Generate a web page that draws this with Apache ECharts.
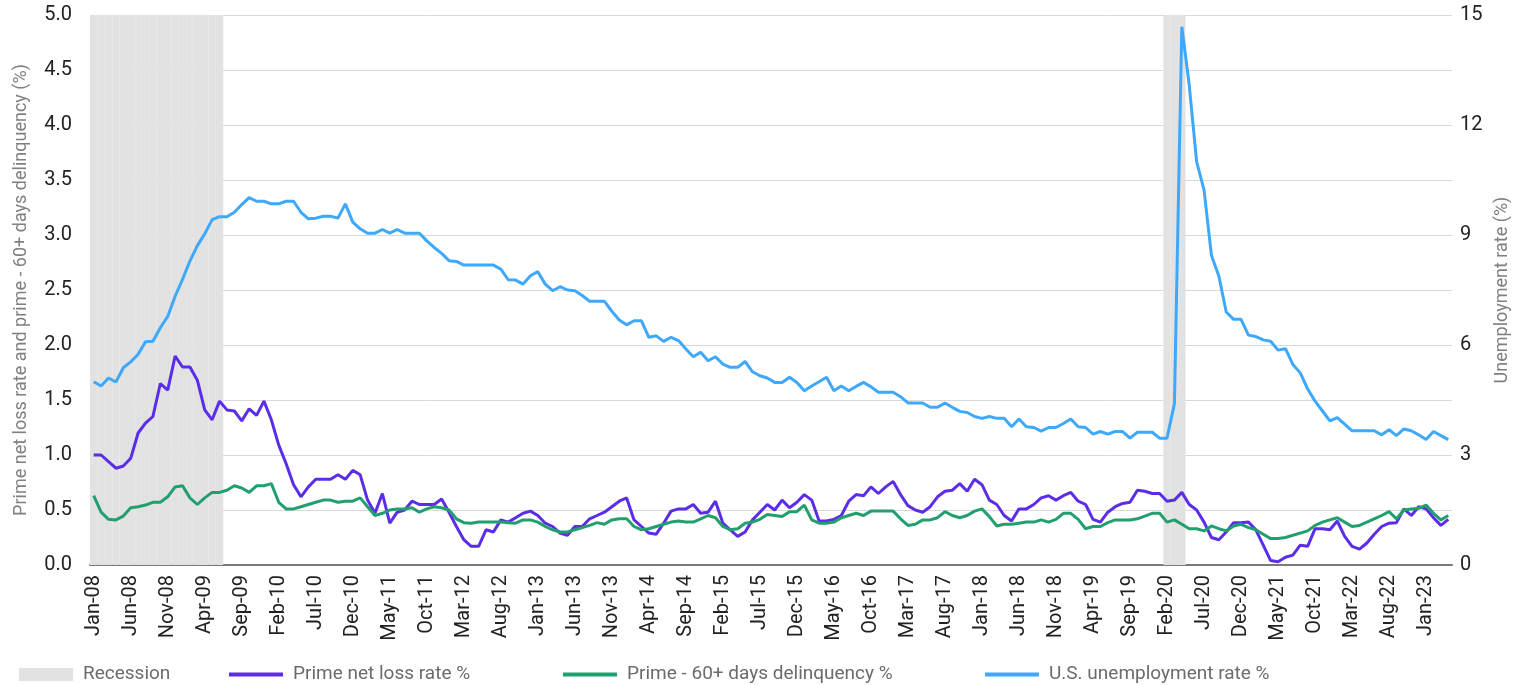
<!DOCTYPE html>
<html>
<head>
<meta charset="utf-8">
<script src="https://cdn.jsdelivr.net/npm/echarts@6/dist/echarts.min.js"></script>
<style>
  html, body { margin: 0; padding: 0; background: #fff; }
  #chart { width: 1524px; height: 685px; }
</style>
</head>
<body>
<div id="chart"></div>
<script>
// months Jan-08 .. Apr-23
const monthNames = ["Jan", "Feb", "Mar", "Apr", "May", "Jun", "Jul", "Aug", "Sep", "Oct", "Nov", "Dec"];
const categories = [];
for (let y = 8; y <= 23; y++) {
  monthNames.forEach((m) => categories.push(m + "-" + String(y).padStart(2, "0")));
}
categories.length = 184;

// recession periods (first and last month)
const recessions = [["Jan-08", "Jun-09"], ["Feb-20", "Apr-20"]];

// Prime net loss rate %
const netLoss = [
  1.0, 1.0, 0.94, 0.88, 0.9, 0.97, 1.2, 1.29, 1.35, 1.65, 1.59, 1.9, 1.8, 1.8, 1.68, 1.41, 1.32, 1.49, 1.41, 1.4,
  1.31, 1.42, 1.36, 1.49, 1.32, 1.09, 0.92, 0.73, 0.62, 0.71, 0.78, 0.78, 0.78, 0.82, 0.78, 0.86, 0.82, 0.59, 0.47, 0.65,
  0.38, 0.48, 0.5, 0.58, 0.55, 0.55, 0.55,
  0.6, 0.48, 0.35, 0.23, 0.17, 0.17, 0.32, 0.3, 0.41, 0.39, 0.43, 0.47, 0.49, 0.45, 0.38, 0.35, 0.29, 0.27, 0.35, 0.35,
  0.42, 0.45, 0.48, 0.53, 0.58, 0.61, 0.41, 0.35, 0.29, 0.28, 0.38, 0.49, 0.51, 0.51, 0.55, 0.47, 0.48, 0.58, 0.38, 0.32,
  0.26, 0.3, 0.41, 0.48, 0.55, 0.5, 0.59,
  0.52, 0.57, 0.64, 0.59, 0.4, 0.4, 0.415, 0.45, 0.58, 0.64, 0.63, 0.71, 0.65, 0.71, 0.76, 0.64, 0.54, 0.5, 0.48, 0.53,
  0.62, 0.67, 0.68, 0.74, 0.67, 0.78, 0.73, 0.59, 0.55, 0.45, 0.4, 0.51, 0.51, 0.55, 0.61, 0.63, 0.59, 0.63, 0.66, 0.58,
  0.55, 0.415, 0.39, 0.48, 0.53,
  0.56, 0.57, 0.68, 0.67, 0.65, 0.65, 0.58, 0.59, 0.66, 0.55, 0.5, 0.39, 0.25, 0.23, 0.3, 0.385, 0.385, 0.39, 0.32, 0.18,
  0.04, 0.03, 0.07, 0.09, 0.18, 0.17, 0.33, 0.33, 0.32, 0.4, 0.26, 0.17, 0.145, 0.2, 0.28, 0.35, 0.38, 0.385, 0.51, 0.45,
  0.53, 0.51, 0.43, 0.36, 0.415
];

// Prime - 60+ days delinquency %
const delinquency = [
  0.63, 0.48, 0.415, 0.41, 0.445, 0.52, 0.53, 0.545, 0.57, 0.57, 0.62, 0.71, 0.72, 0.61, 0.55, 0.61, 0.66, 0.66, 0.68, 0.72,
  0.7, 0.66, 0.72, 0.72, 0.74, 0.57, 0.51, 0.51, 0.53, 0.55, 0.57, 0.59, 0.59, 0.57, 0.58, 0.58, 0.61, 0.53, 0.45, 0.47,
  0.5, 0.51, 0.51, 0.52, 0.48, 0.51, 0.53,
  0.52, 0.5, 0.42, 0.385, 0.38, 0.39, 0.39, 0.39, 0.39, 0.385, 0.38, 0.41, 0.41, 0.39, 0.35, 0.32, 0.3, 0.3, 0.32, 0.34,
  0.36, 0.385, 0.37, 0.41, 0.42, 0.42, 0.35, 0.32, 0.33, 0.35, 0.37, 0.39, 0.4, 0.39, 0.39, 0.42, 0.45, 0.43, 0.35, 0.32,
  0.33, 0.38, 0.39, 0.415, 0.46, 0.45, 0.44,
  0.485, 0.485, 0.545, 0.41, 0.38, 0.38, 0.39, 0.43, 0.45, 0.47, 0.45, 0.49, 0.49, 0.49, 0.49, 0.42, 0.36, 0.37, 0.41, 0.41,
  0.43, 0.485, 0.45, 0.43, 0.45, 0.49, 0.51, 0.44, 0.355, 0.37, 0.37, 0.38, 0.39, 0.39, 0.41, 0.39, 0.415, 0.47, 0.47, 0.415,
  0.33, 0.35, 0.35, 0.385, 0.41,
  0.41, 0.41, 0.42, 0.445, 0.47, 0.47, 0.39, 0.41, 0.37, 0.33, 0.33, 0.31, 0.355, 0.33, 0.31, 0.355, 0.37, 0.34, 0.32, 0.28,
  0.24, 0.24, 0.25, 0.27, 0.29, 0.31, 0.36, 0.39, 0.41, 0.43, 0.39, 0.35, 0.36, 0.39, 0.42, 0.45, 0.485, 0.42, 0.5, 0.51,
  0.515, 0.545, 0.47, 0.41, 0.45
];

// U.S. unemployment rate % (right axis)
const unemployment = [
  5.0, 4.88, 5.1, 4.99, 5.38, 5.54, 5.75, 6.09, 6.1, 6.47, 6.78, 7.33, 7.79, 8.29, 8.71, 9.03, 9.42, 9.5, 9.5, 9.62,
  9.83, 10.02, 9.92, 9.92, 9.85, 9.85, 9.92, 9.92, 9.62, 9.44, 9.46, 9.51, 9.51, 9.46, 9.85, 9.35, 9.17, 9.05, 9.05, 9.15,
  9.05, 9.15, 9.05, 9.05, 9.05, 8.84, 8.66,
  8.5, 8.3, 8.28, 8.18, 8.18, 8.18, 8.18, 8.18, 8.07, 7.78, 7.77, 7.66, 7.89, 8.0, 7.66, 7.48, 7.59, 7.5, 7.48, 7.35,
  7.19, 7.19, 7.19, 6.92, 6.68, 6.55, 6.66, 6.66, 6.21, 6.25, 6.1, 6.21, 6.12, 5.89, 5.68, 5.8, 5.57, 5.68, 5.48, 5.39,
  5.39, 5.55, 5.27, 5.16, 5.1, 4.98, 4.98,
  5.12, 4.98, 4.75, 4.88, 5.0, 5.12, 4.75, 4.88, 4.75, 4.87, 4.98, 4.86, 4.71, 4.71, 4.71, 4.59, 4.42, 4.42, 4.42, 4.3,
  4.3, 4.42, 4.3, 4.19, 4.16, 4.05, 4.0, 4.05, 4.0, 4.0, 3.77, 3.98, 3.77, 3.75, 3.65, 3.75, 3.75, 3.86, 3.98, 3.77,
  3.75, 3.57, 3.64, 3.57, 3.64, 3.64, 3.46, 3.62, 3.62, 3.62, 3.46, 3.46,
  4.4, 14.68, 13.09, 11.0, 10.23, 8.45, 7.88, 6.9, 6.7, 6.7, 6.27, 6.23, 6.14, 6.1, 5.86, 5.9, 5.47, 5.24, 4.8, 4.47,
  4.2, 3.93, 4.02, 3.84, 3.66, 3.66, 3.66, 3.66, 3.55, 3.69, 3.53, 3.71, 3.66, 3.55, 3.42, 3.64, 3.53, 3.42
];

const leftTicks = { min: 0, max: 5, interval: 0.5 };
const rightTicks = { min: 0, max: 15, interval: 3 };

// recession bars fill the full height of the left axis
const recessionData = categories.map(() => null);
recessions.forEach(([a, b]) => {
  for (let i = categories.indexOf(a); i <= categories.indexOf(b); i++) recessionData[i] = leftTicks.max;
});

const FONT = "Roboto";
const NET_LOSS = "#5b2de8";
const DELINQ = "#21a06e";
const UNEMP = "#3ea8fb";
const chart = echarts.init(document.getElementById("chart"));

const legendBase = {
  top: 660,
  itemWidth: 54,
  textStyle: { fontFamily: FONT, fontSize: 19, color: "#6b6b6b", padding: [0, 0, 0, 5] },
};
// line items are drawn as a plain thick bar, no marker
const lineLegend = (left, name, color) =>
  Object.assign({}, legendBase, {
    left: left,
    itemHeight: 4,
    data: [{ name: name, icon: "rect", itemStyle: { color: color } }],
  });

chart.setOption({
  animation: false,
  grid: { left: 90, right: 72, top: 15, bottom: 120, containLabel: false, outerBoundsMode: "none" },
  legend: [
    Object.assign({}, legendBase, { left: 14, itemHeight: 13, data: [{ name: "Recession", icon: "rect" }] }),
    lineLegend(224, "Prime net loss rate %", NET_LOSS),
    lineLegend(558, "Prime - 60+ days delinquency %", DELINQ),
    lineLegend(980, "U.S. unemployment rate %", UNEMP),
  ],
  xAxis: {
    type: "category",
    data: categories,
    boundaryGap: true,
    axisLine: { lineStyle: { color: "#7a7a7a", width: 2 } },
    axisTick: { show: false },
    axisLabel: {
      interval: 4,
      rotate: 90,
      margin: 10,
      fontFamily: FONT,
      fontSize: 20,
      color: "#222",
    },
  },
  yAxis: [
    {
      type: "value",
      min: leftTicks.min,
      max: leftTicks.max,
      interval: leftTicks.interval,
      name: "Prime net loss rate and prime - 60+ days delinquency (%)",
      nameLocation: "middle",
      nameGap: 60,
      nameTextStyle: { fontFamily: FONT, fontSize: 18, color: "#808080" },
      axisLabel: {
        formatter: (v) => v.toFixed(1),
        fontFamily: FONT,
        fontSize: 20,
        color: "#222",
        margin: 18,
      },
      axisLine: { show: false },
      axisTick: { show: false },
      splitLine: { lineStyle: { color: "#d9d9d9", width: 1 } },
    },
    {
      type: "value",
      min: rightTicks.min,
      max: rightTicks.max,
      interval: rightTicks.interval,
      name: "Unemployment rate (%)",
      nameLocation: "middle",
      nameGap: 40,
      nameRotate: 90,
      nameTextStyle: { fontFamily: FONT, fontSize: 18, color: "#808080" },
      axisLabel: { fontFamily: FONT, fontSize: 20, color: "#222", margin: 8 },
      axisLine: { show: false },
      axisTick: { show: false },
      splitLine: { show: false },
    },
  ],
  series: [
    {
      name: "Recession",
      type: "bar",
      data: recessionData,
      barCategoryGap: "0%",
      itemStyle: { color: "#e2e2e2" },
      z: 1,
    },
    {
      name: "Prime net loss rate %",
      type: "line",
      data: netLoss,
      symbol: "none",
      lineStyle: { color: NET_LOSS, width: 3 },
      itemStyle: { color: NET_LOSS },
      z: 3,
    },
    {
      name: "Prime - 60+ days delinquency %",
      type: "line",
      data: delinquency,
      symbol: "none",
      lineStyle: { color: DELINQ, width: 3 },
      itemStyle: { color: DELINQ },
      z: 4,
    },
    {
      name: "U.S. unemployment rate %",
      type: "line",
      yAxisIndex: 1,
      data: unemployment,
      symbol: "none",
      lineStyle: { color: UNEMP, width: 3 },
      itemStyle: { color: UNEMP },
      z: 2,
    },
  ],
});
</script>
</body>
</html>
